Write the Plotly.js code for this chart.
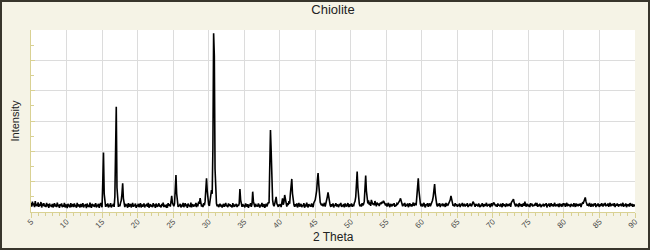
<!DOCTYPE html>
<html>
<head>
<meta charset="utf-8">
<script src="https://cdn.plot.ly/plotly-3.0.1.min.js"></script>
<style>
  html, body { margin: 0; padding: 0; background: #f5f3e6; }
  #wrap { position: relative; width: 650px; height: 250px; }
  #chart { width: 650px; height: 250px; }
  #frame { position: absolute; left: 0; top: 0; width: 650px; height: 250px;
           box-sizing: border-box; border: 2px solid #38352c; pointer-events: none; }
</style>
</head>
<body>
<div id="wrap"><div id="chart"></div><div id="frame"></div></div>
<script>
// Powder diffraction pattern of Chiolite, sampled every 0.1 degree 2-theta from 5 to 90
const chartTitle = "Chiolite";
const xTitle = "2 Theta";
const yTitle = "Intensity";
const twoThetaStart = 5;
const twoThetaStep = 0.1;
const xTickValues = [5,10,15,20,25,30,35,40,45,50,55,60,65,70,75,80,85,90];

const intensity = [
/* 5 */ 30,18,34,22,28,16,36,20,26,19,
/* 6 */ 32,17,27,21,33,15,25,23,29,18,
/* 7 */ 24,16,30,19,26,14,28,20,23,17,
/* 8 */ 27,15,22,29,18,25,16,31,19,24,
/* 9 */ 14,26,20,28,16,23,18,30,15,25,
/*10 */ 21,13,27,18,24,15,29,17,22,26,
/*11 */ 16,28,19,23,14,30,18,25,20,15,
/*12 */ 27,17,22,29,15,24,19,26,13,28,
/*13 */ 18,23,16,31,20,14,27,19,25,17,
/*14 */ 22,29,15,24,18,27,14,21,30,23,
/*15 */ 16,100,196,60,22,17,26,19,28,15,
/*16 */ 24,18,29,15,23,20,27,17,50,199,
/*17 */ 347,80,28,17,24,19,30,38,60,95,
/*18 */ 45,22,16,27,19,25,14,29,18,23,
/*19 */ 26,15,21,30,17,24,19,28,14,22,
/*20 */ 19,27,16,23,29,15,25,18,21,28,
/*21 */ 15,24,20,27,17,30,14,22,26,18,
/*22 */ 23,16,29,19,25,14,28,21,17,24,
/*23 */ 28,18,22,15,27,20,31,16,24,19,
/*24 */ 17,25,14,29,21,26,18,33,53,30,
/*25 */ 22,19,28,70,122,60,26,17,23,20,
/*26 */ 27,15,24,18,30,16,22,29,19,25,
/*27 */ 14,28,20,23,17,31,15,26,21,18,
/*28 */ 25,19,30,16,24,22,34,27,46,28,
/*29 */ 18,24,16,29,22,35,60,111,70,30,
/*30 */ 24,20,38,50,72,60,213,589,515,142,
/*31 */ 60,28,19,25,16,22,27,18,24,15,
/*32 */ 21,27,17,24,30,19,23,16,28,20,
/*33 */ 26,18,22,15,29,21,17,25,19,27,
/*34 */ 16,24,20,28,76,40,22,17,26,19,
/*35 */ 23,15,28,21,18,26,14,24,20,29,
/*36 */ 17,25,67,35,22,16,27,19,23,18,
/*37 */ 28,20,15,24,19,30,17,22,26,14,
/*38 */ 21,27,18,25,32,29,155,270,199,70,
/*39 */ 40,24,19,27,35,50,28,22,17,25,
/*40 */ 20,26,16,30,45,24,33,56,45,28,
/*41 */ 18,29,23,36,27,60,91,109,60,30,
/*42 */ 24,17,26,19,28,15,22,30,18,25,
/*43 */ 27,16,23,20,29,14,25,18,31,21,
/*44 */ 15,26,19,24,17,28,22,16,30,35,
/*45 */ 40,55,70,105,128,90,50,32,26,22,
/*46 */ 27,19,24,30,18,26,38,50,65,45,
/*47 */ 30,22,17,26,19,28,15,24,21,29,
/*48 */ 18,25,20,16,27,22,30,17,23,19,
/*49 */ 26,15,28,21,18,24,29,16,25,20,
/*50 */ 22,28,17,25,19,30,35,50,90,133,
/*51 */ 80,40,27,19,25,18,29,22,26,35,
/*52 */ 80,120,70,35,28,38,24,32,20,40,
/*53 */ 33,25,29,22,36,27,19,31,24,28,
/*54 */ 20,27,31,26,34,29,37,33,25,22,
/*55 */ 28,18,24,30,21,16,27,23,19,26,
/*56 */ 22,29,17,24,20,28,26,30,33,38,
/*57 */ 45,34,26,19,27,22,30,17,25,21,
/*58 */ 28,16,23,29,19,26,18,24,31,20,
/*59 */ 25,29,22,60,90,111,70,40,26,19,
/*60 */ 27,18,24,30,20,15,26,22,29,17,
/*61 */ 24,28,19,25,32,38,50,70,92,60,
/*62 */ 35,24,18,27,21,29,16,25,22,28,
/*63 */ 19,26,23,17,30,20,27,24,29,33,
/*64 */ 40,53,38,28,20,25,18,29,22,26,
/*65 */ 17,24,20,28,16,25,22,30,19,23,
/*66 */ 27,18,25,21,29,16,24,20,28,22,
/*67 */ 19,26,34,30,23,17,27,21,25,18,
/*68 */ 28,22,16,24,19,29,23,17,26,20,
/*69 */ 24,30,18,25,21,27,16,23,29,19,
/*70 */ 26,31,28,22,19,25,17,28,21,24,
/*71 */ 18,27,23,16,29,20,25,22,17,28,
/*72 */ 23,19,26,21,28,17,31,36,38,42,
/*73 */ 30,24,18,27,20,25,16,29,22,19,
/*74 */ 26,17,24,28,20,34,23,18,27,21,
/*75 */ 19,25,16,29,22,27,18,24,20,26,
/*76 */ 28,21,30,17,25,19,27,23,16,24,
/*77 */ 20,27,18,26,22,29,15,25,21,28,
/*78 */ 17,23,29,20,26,18,24,30,19,22,
/*79 */ 25,19,27,16,28,22,20,26,18,29,
/*80 */ 22,28,17,24,30,19,26,21,25,16,
/*81 */ 27,20,25,18,29,23,17,28,22,24,
/*82 */ 19,26,21,28,16,25,30,27,33,38,
/*83 */ 48,35,28,21,26,19,30,23,17,25,
/*84 */ 24,18,27,22,29,16,25,20,28,21,
/*85 */ 17,26,20,29,23,18,27,22,30,19,
/*86 */ 25,21,28,17,24,30,19,26,22,27,
/*87 */ 20,29,16,25,21,28,23,18,26,22,
/*88 */ 27,19,24,30,17,25,21,28,16,23,
/*89 */ 22,26,18,29,24,20,27,17,25,21,
/*90 */ 24
];

const trace = {
  type: "scatter",
  mode: "lines",
  x0: twoThetaStart,
  dx: twoThetaStep,
  y: intensity,
  line: { color: "#000000", width: 1.6 },
  hoverinfo: "x+y",
  showlegend: false
};

const axisYellow = "#d9d193";
const gridGray = "#dcdcdc";

const layout = {
  width: 650,
  height: 250,
  margin: { l: 31, r: 15, t: 30, b: 38, pad: 0 },
  paper_bgcolor: "#f5f3e6",
  plot_bgcolor: "#ffffff",
  font: { family: "Liberation Sans, Arial, sans-serif", color: "#222222" },
  title: {
    text: chartTitle,
    font: { size: 13, color: "#222222" },
    x: 0.5, xref: "paper", xanchor: "center",
    y: 1, yref: "container", yanchor: "top", pad: { t: 5 }
  },
  xaxis: {
    range: [5, 90],
    tickmode: "array",
    tickvals: xTickValues,
    ticktext: xTickValues.map(String),
    tickangle: -45,
    tickfont: { size: 8, color: "#4a4a4a" },
    ticklabelstandoff: -4,
    ticks: "outside",
    ticklen: 5,
    tickcolor: axisYellow,
    showline: true,
    linecolor: axisYellow,
    linewidth: 1,
    showgrid: true,
    gridcolor: gridGray,
    gridwidth: 1,
    zeroline: false,
    minor: { dtick: 1, ticks: "outside", ticklen: 3, tickcolor: axisYellow, showgrid: false }
  },
  yaxis: {
    range: [0, 600],
    dtick: 100,
    showticklabels: false,
    ticks: "inside",
    ticklen: 4,
    tickcolor: axisYellow,
    showline: true,
    linecolor: axisYellow,
    linewidth: 1,
    showgrid: true,
    gridcolor: gridGray,
    gridwidth: 1,
    zeroline: false,
    minor: { dtick: 50, ticks: "inside", ticklen: 3, tickcolor: axisYellow, showgrid: false },
    title: { text: yTitle, font: { size: 11, color: "#222222" }, standoff: 8 }
  },
  annotations: [{
    text: xTitle,
    xref: "paper", yref: "paper",
    x: 0.5, y: -0.135,
    xanchor: "center", yanchor: "middle",
    showarrow: false,
    font: { size: 12, color: "#222222" }
  }]
};

Plotly.newPlot("chart", [trace], layout, { staticPlot: true, displayModeBar: false });
</script>
</body>
</html>
